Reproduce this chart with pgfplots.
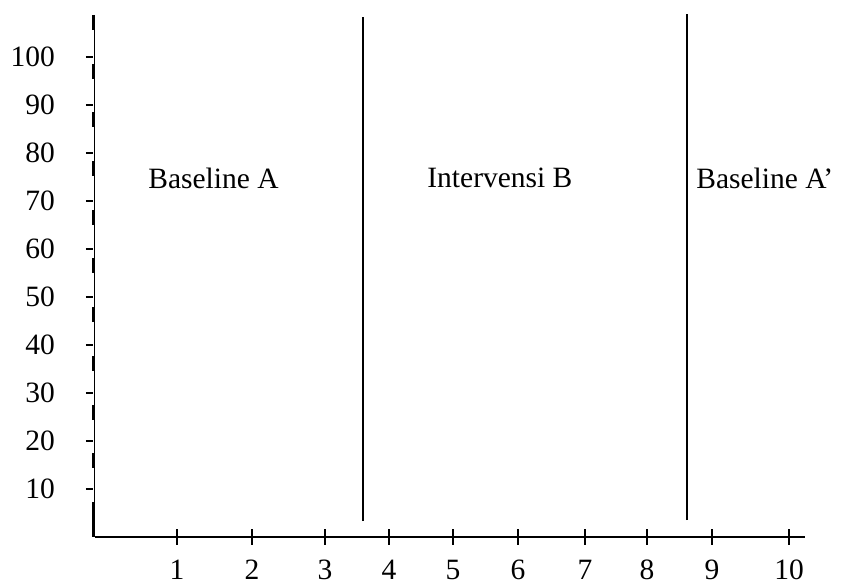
\documentclass[border=0pt]{standalone}
\usepackage{pgfplots}
\pgfplotsset{compat=1.18}
\usepackage{fontspec}
\setmainfont{Liberation Serif}
\newcommand{\chartfont}{\fontsize{14.75}{17}\selectfont}
\begin{document}
\begin{tikzpicture}
\begin{axis}[
  name=ax,
  scale only axis, width=355pt, height=261pt,
  xmin=95, xmax=805, ymin=0, ymax=108.75,
  clip=false,
  axis x line*=bottom, axis y line*=left,
  x axis line style={line width=1pt, black},
  y axis line style={line width=0.5pt, black},
  xtick={177,252,325,389,453,518,585,647,712,789},
  xticklabels={1,2,3,4,5,6,7,8,9,10},
  ytick={10,20,30,40,50,60,70,80,90,100},
  minor ytick={10,20,30,40,50,60,70,80,90,100},
  tick align=center,
  major tick length=8pt,
  minor tick length=3.5pt,
  every major x tick/.append style={line width=0.8pt, black},
  every major y tick/.append style={draw=none},
  every minor y tick/.append style={xshift=-2.75pt, line width=0.75pt, black},
  tick label style={font=\chartfont},
  /pgf/number format/assume math mode=true,
  yticklabel style={anchor=east, xshift=-12.5pt},
  xticklabel style={yshift=-4pt},
]
% broken (dashed) overlay on the y axis line
\addplot[black, line width=1.1pt, dash pattern=on 7.5pt off 16.85pt, forget plot] coordinates {(93.6,108.75) (93.6,0)};
\addplot[black, line width=1.1pt, forget plot] coordinates {(93.6,7.3) (93.6,0)};
% phase change lines
\addplot[black, line width=1pt] coordinates {(363,3.3) (363,108.3)};
\addplot[black, line width=1pt] coordinates {(687,3.5) (687,109)};
\node[anchor=west, inner sep=0pt, font=\chartfont] at (axis cs:148,74.8) {Baseline A};
\node[anchor=west, inner sep=0pt, font=\chartfont] at (axis cs:427,74.8) {Intervensi B};
\node[anchor=west, inner sep=0pt, font=\chartfont] at (axis cs:696,74.8) {Baseline A’};
\end{axis}
\pgfresetboundingbox
\path ([shift={(-47.5pt,-23pt)}]ax.south west) rectangle ([shift={(26.5pt,7.5pt)}]ax.north east);
\end{tikzpicture}
\end{document}
